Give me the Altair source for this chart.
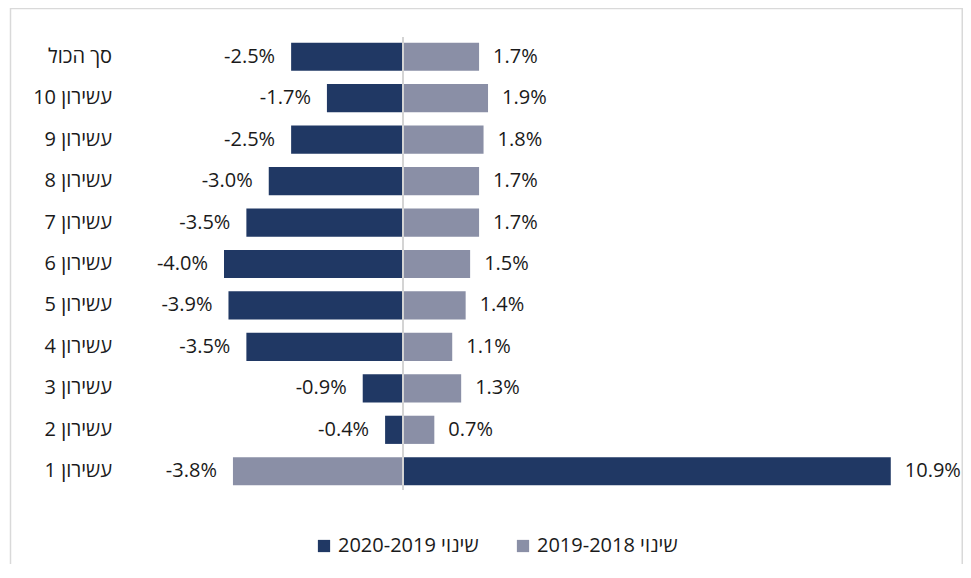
import altair as alt
import pandas as pd

categories = ["סך הכול", "עשירון 10", "עשירון 9", "עשירון 8", "עשירון 7", "עשירון 6",
              "עשירון 5", "עשירון 4", "עשירון 3", "עשירון 2", "עשירון 1"]
series_names = ["שינוי 2020-2019", "שינוי 2019-2018"]
change_2020_2019 = [-2.5, -1.7, -2.5, -3.0, -3.5, -4.0, -3.9, -3.5, -0.9, -0.4, 10.9]
change_2019_2018 = [1.7, 1.9, 1.8, 1.7, 1.7, 1.5, 1.4, 1.1, 1.3, 0.7, -3.8]
colors = ["#203864", "#8a8fa6"]

rows = []
for c, a, b in zip(categories, change_2020_2019, change_2019_2018):
    rows.append({"cat": c, "series": series_names[0], "value": a})
    rows.append({"cat": c, "series": series_names[1], "value": b})
df = pd.DataFrame(rows)
cat_df = pd.DataFrame({"cat": categories})

W, H = 955, 556
ZERO_PX, PX_PER = 395.0, 44.75
FONT = "Open Sans, Liberation Sans, DejaVu Sans, sans-serif"
TXT = "#1a1a1a"

xscale = alt.Scale(domain=[-ZERO_PX / PX_PER, (W - ZERO_PX) / PX_PER], nice=False, zero=False)
yscale = alt.Scale(domain=categories, range=[28, 484], paddingInner=0.32, paddingOuter=0.16)

base = alt.Chart(df)

bars = base.mark_bar().encode(
    x=alt.X("value:Q", scale=xscale, axis=None),
    x2=alt.datum(0),
    y=alt.Y("cat:N", scale=yscale, axis=None, sort=categories),
    color=alt.Color(
        "series:N",
        scale=alt.Scale(domain=series_names, range=colors),
        legend=alt.Legend(
            title=None, orient="none", legendX=306, legendY=528, direction="horizontal",
            symbolType="square", symbolSize=150, symbolStrokeWidth=0,
            labelFontSize=20, labelFont=FONT, labelColor=TXT, labelLimit=0,
            labelOffset=4, columnPadding=34,
        ),
    ),
)

label_expr = "(datum.value < 0 ? '-' : '') + format(abs(datum.value), '.1f') + '%'"

neg_labels = base.transform_filter("datum.value < 0").transform_calculate(
    lbl=label_expr
).mark_text(align="right", baseline="middle", dx=-16, fontSize=20, font=FONT, color=TXT).encode(
    x=alt.X("value:Q", scale=xscale, axis=None),
    y=alt.Y("cat:N", scale=yscale, axis=None, sort=categories),
    text="lbl:N",
)

pos_labels = base.transform_filter("datum.value >= 0").transform_calculate(
    lbl=label_expr
).mark_text(align="left", baseline="middle", dx=14, fontSize=20, font=FONT, color=TXT).encode(
    x=alt.X("value:Q", scale=xscale, axis=None),
    y=alt.Y("cat:N", scale=yscale, axis=None, sort=categories),
    text="lbl:N",
)

cat_labels = alt.Chart(cat_df).mark_text(
    align="right", baseline="middle", fontSize=20, font=FONT, color=TXT
).encode(
    x=alt.value(104),
    y=alt.Y("cat:N", scale=yscale, axis=None, sort=categories),
    text="cat:N",
)

zero_rule = alt.Chart(pd.DataFrame({"z": [0]})).mark_rule(color="#d4d4d4", strokeWidth=2).encode(
    x=alt.X("z:Q", scale=xscale, axis=None),
    y=alt.value(29),
    y2=alt.value(482),
)

frame = alt.Chart(pd.DataFrame({"f": [0]})).mark_rect(
    filled=False, stroke="#d9d9d9", strokeWidth=1.5
).encode(
    x=alt.value(2.5), x2=alt.value(W - 0.75), y=alt.value(0.5), y2=alt.value(700)
)

chart = alt.layer(frame, bars, zero_rule, neg_labels, pos_labels, cat_labels).properties(
    width=W, height=H, padding=0, autosize=alt.AutoSizeParams(type="none"),
    background="white",
).configure_view(stroke=None)

chart.save("out.html", embed_options={"renderer": "svg", "actions": False})
